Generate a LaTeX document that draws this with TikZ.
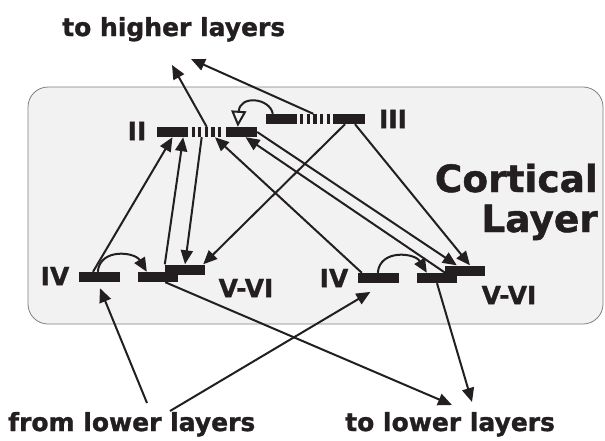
\documentclass[tikz,border=0pt]{standalone}
\usepackage{fontspec}
\setmainfont{DejaVu Sans}[BoldFeatures={FakeBold=1.2}]
\usetikzlibrary{arrows.meta,calc}
\definecolor{ink}{HTML}{231F20}
\definecolor{boxfill}{HTML}{F2F2F2}
\definecolor{boxline}{HTML}{808080}
\begin{document}
\begin{tikzpicture}[x=1pt,y=-1pt,
  bar/.style={rectangle, fill=ink, draw=none, inner sep=0pt, minimum height=10pt},
  dashbar/.style={rectangle, draw=none, inner sep=0pt, minimum height=10pt, minimum width=30pt},
  dashfill/.style={draw=ink, line width=10pt, dash pattern=on 3.33pt off 3.33pt},
  conn/.style={draw=ink, line width=2pt, -{Triangle[length=14pt,width=12pt]}},
  lab/.style={font=\bfseries\fontsize{25}{25}\selectfont, text=ink, inner sep=0pt},
  bigtext/.style={font=\bfseries\fontsize{37.5}{40}\selectfont, text=ink, inner sep=0pt, anchor=base east},
  captext/.style={font=\bfseries\fontsize{25}{25}\selectfont, text=ink, inner sep=0pt, anchor=base west}]

\useasboundingbox (0,0) rectangle (605,440);
\fill[white] (0,0) rectangle (605,440);
\draw[boxline, fill=boxfill, line width=0.8pt, rounded corners=20pt] (28,87) rectangle (603,324);

% bars
\node[bar, minimum width=31pt] (IIa) at (172.5,132) {};
\node[dashbar] (IId) at (206.7,132) {};
\draw[dashfill] (IId.west) -- (IId.east);
\node[bar, minimum width=31pt] (IIb) at (241.5,132) {};
\node[bar, minimum width=31pt] (IIIa) at (281.5,119) {};
\node[dashbar] (IIId) at (315.3,119) {};
\draw[dashfill] (IIId.west) -- (IIId.east);
\node[bar, minimum width=32pt] (IIIb) at (349,119) {};
\node[bar, minimum width=41pt] (IVa) at (99.5,277) {};
\node[bar, minimum width=40pt] (Va) at (158,277) {};
\node[bar, minimum width=40pt] (Vb) at (185,269.5) {};
\node[bar, minimum width=41pt] (IVc) at (378.5,278) {};
\node[bar, minimum width=40pt] (Vc) at (437,278) {};
\node[bar, minimum width=40pt] (Vd) at (465,270.5) {};

% labels
\node[lab] (tII) at (137,131) {II};
\node[lab] (tIII) at (393,119) {III};
\node[lab] (tIVa) at (55,276) {IV};
\node[lab] (tVa) at (246,288) {V-VI};
\node[lab] (tIVc) at (334,278) {IV};
\node[lab] (tVc) at (509,295) {V-VI};
\node[bigtext] (cort) at (598,192) {Cortical};
\node[bigtext] (layer) at (598,232) {Layer};
\node[captext] (higher) at (62,36) {to higher layers};
\node[captext] (from) at (8,431) {from lower layers};
\node[captext] (lower) at (345,431) {to lower layers};

% free ends
\coordinate (hi1) at (172,65);
\coordinate (hi2) at (191,59);
\coordinate (lo1) at (452,405);
\coordinate (lo2) at (472,402);
\coordinate (fr1) at (147,403);
\coordinate (fr2) at (170,411);

% connectors
\draw[conn] (IId.north) -- (hi1);
\draw[conn] ([xshift=-2pt]IIId.north) -- (hi2);
\draw[ink, line width=2pt, -{Triangle[open,length=16pt,width=15pt]}]
  ([xshift=7pt]IIIa.north west) .. controls +(-3,-16) and +(2,-32) .. ([xshift=12pt]IIb.north west);
\draw[conn] ([xshift=-6.5pt]IVa.north) -- (IIa.south);
\draw[conn] (Vb.north west) -- ([xshift=-5pt]IIa.south east);
\draw[conn] ([xshift=-5pt]IId.south) -- (Vb.north);
\draw[conn] ([xshift=-4pt]IIIb.south) -- ([xshift=-2pt]Vb.north east);
\draw[conn] ([xshift=6pt]IIIb.south) -- ([xshift=5pt]Vd.north);
\draw[conn] (IIb.east) -- ([xshift=12pt]Vd.north west);
\draw[conn] ([xshift=-12pt]Vc.north east) -- ([xshift=4pt]IIb.south);
\draw[conn] ([xshift=4pt]IVc.north west) -- ([xshift=-7pt]IId.south east);
\draw[conn] ([xshift=19pt]IVa.north west) .. controls +(2,-24) and +(-12,-20) .. ([xshift=9pt]Va.north west);
\draw[conn] ([xshift=20pt]IVc.north west) .. controls +(2,-24) and +(-12,-20) .. ([xshift=10pt]Vc.north west);
\draw[conn] ([xshift=-13pt]Va.south east) -- (lo1);
\draw[conn] (Vc.south) -- (lo2);
\draw[conn, shorten >=6.5pt] (fr1) -- ([xshift=-2pt]IVa.south);
\draw[conn, shorten >=17pt] (fr2) -- ([xshift=6.5pt]IVc.south);
\end{tikzpicture}
\end{document}
